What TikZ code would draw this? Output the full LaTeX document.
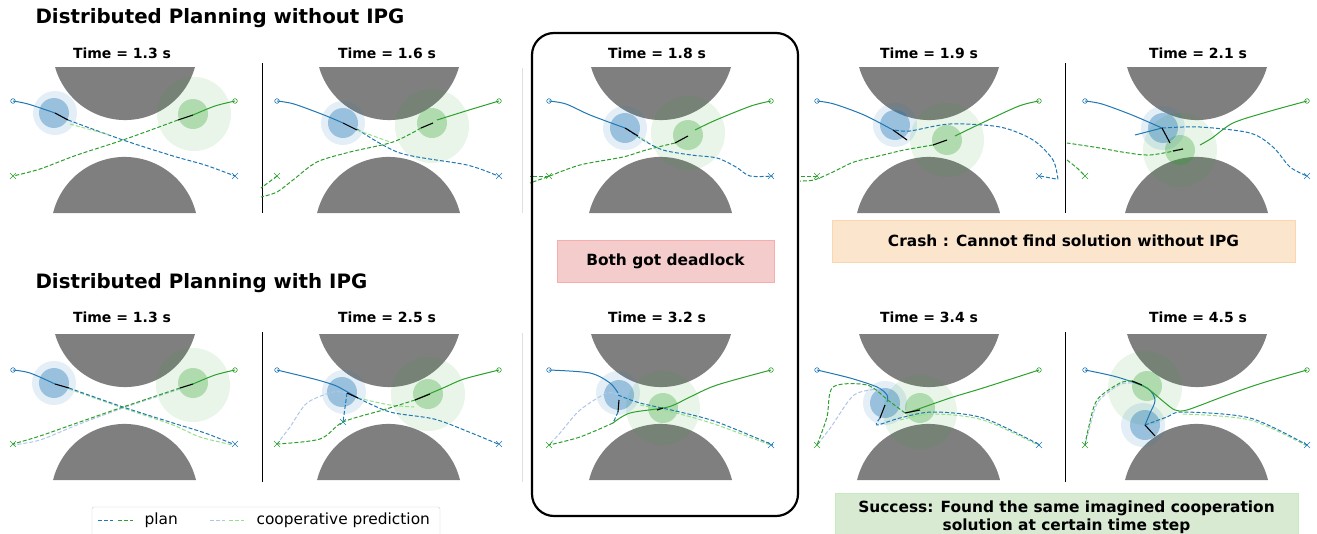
\documentclass[tikz,border=0pt]{standalone}
\usepackage{fontspec}
\setmainfont{DejaVu Sans}
\definecolor{tabblue}{HTML}{1F77B4}
\definecolor{tabgreen}{HTML}{2CA02C}
\definecolor{liteblue}{HTML}{AEC7E8}
\definecolor{litegreen}{HTML}{98DF8A}
\definecolor{wallgray}{HTML}{7F7F7F}
\definecolor{deadpink}{HTML}{F4CCCC}
\definecolor{crashorange}{HTML}{FCE5CD}
\definecolor{succgreen}{HTML}{D9EAD3}
% the two walls of the gap
\newcommand{\gapwalls}{%
  \fill[wallgray] (195,67) arc[start angle=15.7,end angle=164.3,radius=72.7] -- cycle;
  \fill[wallgray] (196,213) arc[start angle=-13.8,end angle=-166.2,radius=73.6] -- cycle;}
% start (o) and goal (x) marks
\newcommand{\trackends}[2]{%
  \draw[tabblue,line width=.6pt] (13,#1) circle[radius=2.3];
  \draw[tabgreen,line width=.6pt] (235,#1) circle[radius=2.3];
  \draw[tabgreen,line width=.6pt] (10,#2-3) -- (16,#2+3) (10,#2+3) -- (16,#2-3);
  \draw[tabblue,line width=.6pt] (232,#2-3) -- (238,#2+3) (232,#2+3) -- (238,#2-3);}
\begin{document}
\begin{tikzpicture}[x=1pt,y=-1pt,
    planB/.style={tabblue,line width=1pt,dash pattern=on 4pt off 2pt},
    planG/.style={tabgreen,line width=1pt,dash pattern=on 4pt off 2pt},
    coopB/.style={liteblue,line width=1pt,dash pattern=on 4pt off 2pt},
    coopG/.style={litegreen,line width=1pt,dash pattern=on 4pt off 2pt},
    pathB/.style={tabblue,line width=1pt},
    pathG/.style={tabgreen,line width=1pt},
    head/.style={black,line width=1.1pt},
    haloB/.style={fill=tabblue,fill opacity=.12},
    bodyB/.style={fill=tabblue,fill opacity=.38},
    haloG/.style={fill=tabgreen,fill opacity=.11},
    bodyG/.style={fill=tabgreen,fill opacity=.3},
    clock/.style={font=\bfseries\fontsize{14}{16}\selectfont},
    banner/.style={font=\bfseries\fontsize{19.8}{22}\selectfont,anchor=west},
    note/.style={font=\bfseries\fontsize{15.4}{18}\selectfont,align=center,line width=.6pt}]
\useasboundingbox (0,0) rectangle (1317,533);

\node[banner] (without) at (32,18) {Distributed Planning without IPG};
\node[banner] (with) at (32,283) {Distributed Planning with IPG};

\foreach \tx/\ty/\tt [count=\k] in {122/53/1.3,387/53/1.6,657/53/1.8,929/53/1.9,1198/53/2.1,
    122/317/1.3,387/317/2.5,657/317/3.2,929/317/3.4,1198/317/4.5}
  \node[clock] (time\k) at (\tx,\ty) {Time = \tt\ s};

\foreach \dx in {262,1065} {
  \draw[line width=.7pt] (\dx,63) -- (\dx,213);
  \draw[line width=.7pt] (\dx,332) -- (\dx,482);
}
\draw[gray!25] (522,68) -- (522,213);
\draw[gray!25] (522,333) -- (522,482);

% ---- top row: without IPG
\begin{scope}
  \gapwalls
  \fill[haloG] (194,114) circle[radius=37];
  \fill[bodyG] (193,114) circle[radius=15];
  \fill[haloB] (55,113) circle[radius=22];
  \fill[bodyB] (54,113) circle[radius=15];
  \draw[pathB] plot[smooth] coordinates {(13,101) (28,104) (55,113)};
  \draw[planB] plot[smooth] coordinates {(68,120) (123,140) (173,156) (205,165) (235,176)};
  \draw[coopG] (70,124) -- (110,135);
  \draw[head] (55,113) -- (68,120);
  \draw[pathG] plot[smooth] coordinates {(235,101) (215,106) (193,115)};
  \draw[planG] plot[smooth] coordinates {(178,120) (123,140) (77,155) (40,169) (13,176)};
  \draw[head] (193,115) -- (178,120);
  \trackends{101}{176}
\end{scope}
\begin{scope}[shift={(264,0)}]
  \gapwalls
  \fill[haloG] (168,126) circle[radius=37];
  \fill[bodyG] (168,123) circle[radius=15];
  \fill[haloB] (79,123) circle[radius=22];
  \fill[bodyB] (79,123) circle[radius=15];
  \draw[pathB] plot[smooth] coordinates {(13,101) (30,104) (60,115) (79,123)};
  \draw[planB] plot[smooth] coordinates {(93,129) (136,153) (203,165) (234,176)};
  \draw[coopG] (93,130) -- (126,142);
  \draw[head] (79,123) -- (93,130);
  \draw[pathG] plot[smooth] coordinates {(235,101) (205,110) (173,120)};
  \draw[planG] plot[smooth] coordinates {(157,128) (129,142) (86,152) (53,162) (29,180) (13,192) (-3,197)};
  \draw[planG] (13,176) -- (-3,188);
  \draw[head] (157,128) -- (169,123);
  \trackends{101}{176}
\end{scope}
\begin{scope}[shift={(536,0)}]
  \gapwalls
  \fill[haloG] (152,133) circle[radius=37];
  \fill[bodyG] (152,135) circle[radius=15];
  \fill[haloB] (89,128) circle[radius=22];
  \fill[bodyB] (89,128) circle[radius=15];
  \draw[pathB] plot[smooth] coordinates {(13,101) (30,104) (54,115) (89,128)};
  \draw[planB] plot[smooth] coordinates {(91,129) (107,140) (127,150) (155,155) (181,158) (200,167) (214,176) (237,176)};
  \draw[coopG] (100,135) -- (112,142);
  \draw[head] (89,128) -- (102,136);
  \draw[pathG] plot[smooth] coordinates {(235,101) (215,106) (180,120) (159,130)};
  \draw[planG] plot[smooth] coordinates {(139,143) (110,150) (87,157) (44,165) (11,177) (-6,183)};
  \draw[planG] (13,176) -- (-6,176);
  \draw[head] (139,143) -- (152,136);
  \trackends{101}{176}
\end{scope}
\begin{scope}[shift={(804,0)}]
  \gapwalls
  \fill[haloG] (143,140) circle[radius=37];
  \fill[bodyG] (143,140) circle[radius=15];
  \fill[haloB] (91,125) circle[radius=22];
  \fill[bodyB] (91,125) circle[radius=15];
  \draw[pathB] plot[smooth] coordinates {(13,101) (30,104) (60,115) (89,130)};
  \draw[planB] plot[smooth] coordinates {(91,130) (106,131) (146,124) (196,127) (229,140) (249,160) (254,180)};
  \draw[planB] (236,176) -- (252,179);
  \draw[head] (89,130) -- (103,140);
  \draw[pathG] plot[smooth] coordinates {(235,101) (215,106) (180,122) (151,136)};
  \draw[planG] plot[smooth] coordinates {(129,145) (100,150) (79,155) (50,162) (29,172) (10,180) (-4,181)};
  \draw[planG] (13,176) -- (-4,176);
  \draw[head] (129,145) -- (143,140);
  \trackends{101}{176}
\end{scope}
\begin{scope}[shift={(1072,0)}]
  \gapwalls
  \fill[haloG] (108,150) circle[radius=37];
  \fill[bodyG] (108,150) circle[radius=15];
  \fill[haloB] (91,128) circle[radius=22];
  \fill[bodyB] (91,128) circle[radius=15];
  \draw[pathB] plot[smooth] coordinates {(13,101) (30,104) (60,115) (90,128)};
  \draw[pathB] (90,128) -- (63,135);
  \draw[planB] plot[smooth] coordinates {(90,128) (128,127) (178,133) (201,147) (218,167) (235,176)};
  \draw[head] (90,128) -- (98,143);
  \draw[pathG] plot[smooth] coordinates {(235,101) (195,112) (161,123) (140,138) (128,145)};
  \draw[planG] plot[smooth] coordinates {(111,149) (78,155) (50,152) (28,148) (-5,143)};
  \draw[planG] plot[smooth] coordinates {(-5,160) (5,168) (13,176)};
  \draw[head] (101,151) -- (111,149);
  \trackends{101}{176}
\end{scope}

% ---- bottom row: with IPG
\begin{scope}[shift={(0,267)}]
  \gapwalls
  \fill[haloG] (193,118) circle[radius=37];
  \fill[bodyG] (193,116) circle[radius=15];
  \fill[haloB] (54,116) circle[radius=22];
  \fill[bodyB] (54,116) circle[radius=15];
  \draw[pathB] plot[smooth] coordinates {(13,103) (30,106) (55,117)};
  \draw[coopG] plot[smooth] coordinates {(69,122) (123,141) (173,158) (200,170) (233,178)};
  \draw[planB] plot[smooth] coordinates {(69,121) (123,140) (173,156) (205,166) (233,177)};
  \draw[head] (55,117) -- (69,121);
  \draw[pathG] plot[smooth] coordinates {(235,103) (215,108) (193,117)};
  \draw[coopB] plot[smooth] coordinates {(180,122) (123,141) (77,158) (40,173) (13,178)};
  \draw[planG] plot[smooth] coordinates {(180,121) (123,140) (77,156) (40,169) (13,177)};
  \draw[head] (193,117) -- (180,121);
  \trackends{103}{177}
\end{scope}
\begin{scope}[shift={(264,267)}]
  \gapwalls
  \fill[haloG] (164,127) circle[radius=37];
  \fill[bodyG] (164,127) circle[radius=15];
  \fill[haloB] (80,125) circle[radius=22];
  \fill[bodyB] (78,125) circle[radius=15];
  \draw[pathB] plot[smooth] coordinates {(13,103) (50,112) (70,118) (80,123) (94,131)};
  \draw[coopB] plot[smooth] coordinates {(83,126) (69,125) (43,136) (26,160) (13,177)};
  \draw[planB] (83,126) -- (79,155);
  \draw[tabblue,line width=.6pt] (76,152) -- (82,158) (76,158) -- (82,152);
  \draw[coopG] plot[smooth] coordinates {(94,131) (126,138) (150,140)};
  \draw[planB] plot[smooth] coordinates {(94,131) (126,145) (170,152) (205,165) (234,177)};
  \draw[head] (83,126) -- (94,131);
  \draw[pathG] plot[smooth] coordinates {(235,103) (200,112) (179,121) (153,132)};
  \draw[planG] plot[smooth] coordinates {(151,133) (119,143) (79,155) (56,172) (13,177)};
  \draw[head] (151,133) -- (166,127);
  \trackends{103}{177}
\end{scope}
\begin{scope}[shift={(536,267)}]
  \gapwalls
  \fill[haloG] (127,141) circle[radius=37];
  \fill[bodyG] (127,141) circle[radius=15];
  \fill[haloB] (82,126) circle[radius=22];
  \fill[bodyB] (83,128) circle[radius=15];
  \draw[pathB] plot[smooth] coordinates {(13,103) (54,106) (74,116) (82,126)};
  \draw[coopB] plot[smooth] coordinates {(82,128) (71,126) (44,143) (24,166) (13,178)};
  \draw[coopG] plot[smooth] coordinates {(104,138) (144,147) (181,158) (237,179)};
  \draw[planB] plot[smooth] coordinates {(82,128) (104,136) (144,145) (181,155) (237,178)};
  \draw[planB] (82,145) -- (77,156);
  \draw[head] (83,133) -- (82,145);
  \draw[pathG] plot[smooth] coordinates {(235,103) (181,118) (154,130) (132,140) (94,146) (77,156)};
  \draw[planG] plot[smooth] coordinates {(77,156) (44,170) (13,178)};
  \draw[head] (121,143) -- (127,141);
  \trackends{103}{178}
\end{scope}
\begin{scope}[shift={(804,267)}]
  \gapwalls
  \fill[haloG] (116,145) circle[radius=37];
  \fill[bodyG] (116,141) circle[radius=15];
  \fill[haloB] (81,136) circle[radius=22];
  \fill[bodyB] (81,136) circle[radius=15];
  \draw[pathB] plot[smooth] coordinates {(13,103) (46,111) (73,120) (83,128) (83,135)};
  \draw[coopG] plot[smooth] coordinates {(96,153) (129,147) (179,153) (236,179)};
  \draw[planB] plot[smooth] coordinates {(76,151) (73,158) (96,151) (129,145) (179,151) (236,178)};
  \draw[head] (81,138) -- (76,151);
  \draw[pathG] plot[smooth] coordinates {(235,103) (179,121) (146,131) (106,145)};
  \draw[coopB] plot[smooth] coordinates {(76,122) (50,128) (27,160) (13,178)};
  \draw[planG] plot[smooth] coordinates {(101,146) (85,134) (63,118) (29,120) (23,150) (13,178)};
  \draw[head] (101,146) -- (116,143);
  \trackends{103}{178}
\end{scope}
\begin{scope}[shift={(1072,267)}]
  \gapwalls
  \fill[haloG] (73,121) circle[radius=37];
  \fill[bodyG] (75,119) circle[radius=15];
  \fill[haloB] (71,158) circle[radius=22];
  \fill[bodyB] (73,158) circle[radius=15];
  \draw[pathB] plot[smooth] coordinates {(13,103) (45,110) (75,121) (83,133) (78,146) (73,158)};
  \draw[coopG] plot[smooth] coordinates {(111,147) (178,153) (235,179)};
  \draw[planB] plot[smooth] coordinates {(73,158) (95,150) (111,145) (178,151) (235,178)};
  \draw[head] (73,158) -- (83,169);
  \draw[pathG] plot[smooth] coordinates {(235,103) (200,113) (178,120) (150,130) (115,143) (103,143) (92,135) (75,121) (60,114)};
  \draw[coopB] plot[smooth] coordinates {(60,116) (47,118) (26,135) (17,163) (13,178)};
  \draw[planG] plot[smooth] coordinates {(60,114) (48,116) (25,133) (16,163) (13,178)};
  \draw[head] (60,114) -- (70,118);
  \trackends{103}{178}
\end{scope}

% ---- frame and remarks
\draw[line width=2.2pt,rounded corners=22pt] (532,33) rectangle (798,516);
\node[note,fill=deadpink,draw=deadpink!85!red,minimum width=217,minimum height=42] (deadlock) at (665.5,261) {Both got deadlock};
\node[note,fill=crashorange,draw=crashorange!85!orange,minimum width=463,minimum height=42] (crash) at (1063.5,241) {Crash : Cannot find solution without IPG};
\node[note,fill=succgreen,draw=succgreen!90!green,minimum width=463,minimum height=48,inner sep=1pt] (success) at (1066.5,517)
  {Success: Found the same imagined cooperation\\solution at certain time step};

% ---- legend
\draw[gray!40,rounded corners=2pt,fill=white] (92,507) rectangle (440,545);
\draw[planB] (98,520) -- (113,520);
\draw[planG] (118,520) -- (133,520);
\node[anchor=west,font=\fontsize{15.4}{18}\selectfont] (legplan) at (141,520) {plan};
\draw[coopB] (210,520) -- (225,520);
\draw[coopG] (229,520) -- (244,520);
\node[anchor=west,font=\fontsize{15.4}{18}\selectfont] (legcoop) at (253,520) {cooperative prediction};
\end{tikzpicture}
\end{document}
